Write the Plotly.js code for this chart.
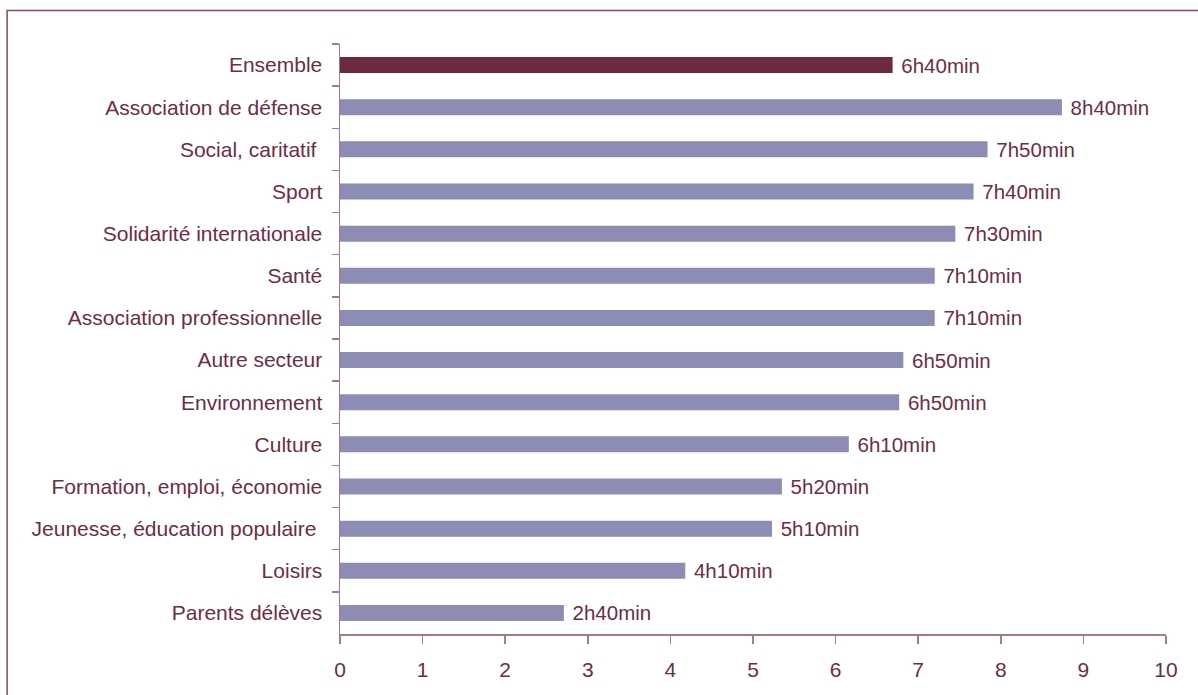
<!DOCTYPE html>
<html>
<head>
<meta charset="utf-8">
<script src="https://cdn.plot.ly/plotly-3.0.1.min.js"></script>
<style>html,body{margin:0;padding:0;background:#fff;}</style>
</head>
<body>
<div id="chart" style="width:1198px;height:695px;"></div>
<script>
var categories = [
  "Ensemble",
  "Association de défense",
  "Social, caritatif\u00a0",
  "Sport",
  "Solidarité internationale",
  "Santé",
  "Association professionnelle",
  "Autre secteur",
  "Environnement",
  "Culture",
  "Formation, emploi, économie",
  "Jeunesse, éducation populaire\u00a0",
  "Loisirs",
  "Parents délèves"
];
var hours = [6.69, 8.74, 7.84, 7.67, 7.45, 7.20, 7.20, 6.82, 6.77, 6.16, 5.35, 5.23, 4.18, 2.71];
var valueLabels = ["6h40min", "8h40min", "7h50min", "7h40min", "7h30min", "7h10min", "7h10min",
  "6h50min", "6h50min", "6h10min", "5h20min", "5h10min", "4h10min", "2h40min"];
var xTicks = [0, 1, 2, 3, 4, 5, 6, 7, 8, 9, 10];

var textColor = "#6e2c47";
var axisColor = "#a8798b";
var barColors = categories.map(function (c, i) { return i === 0 ? "#6b2a40" : "#8c8cb5"; });

var trace = {
  type: "bar",
  orientation: "h",
  y: categories,
  x: hours,
  text: valueLabels.map(function (t) { return "\u00a0" + t; }),
  textposition: "outside",
  constraintext: "none",
  cliponaxis: false,
  textfont: {family: "Liberation Sans, Arial, sans-serif", size: 20.5, color: textColor},
  marker: {color: barColors},
  width: 0.38,
  hoverinfo: "none"
};

var layout = {
  width: 1198,
  height: 695,
  margin: {l: 340, r: 32, t: 44, b: 61},
  paper_bgcolor: "#ffffff",
  plot_bgcolor: "#ffffff",
  showlegend: false,
  font: {family: "Liberation Sans, Arial, sans-serif", size: 21, color: textColor},
  xaxis: {
    range: [0, 10],
    tickvals: xTicks,
    ticktext: xTicks.map(String),
    showgrid: false,
    zeroline: false,
    showline: true,
    linecolor: axisColor,
    linewidth: 1.5,
    ticks: "outside",
    ticklen: 8,
    tickwidth: 1.5,
    tickcolor: axisColor,
    tickfont: {size: 21, color: textColor},
    ticklabelstandoff: 8,
    fixedrange: true
  },
  yaxis: {
    type: "category",
    autorange: "reversed",
    showgrid: false,
    zeroline: false,
    showline: true,
    linecolor: axisColor,
    linewidth: 1.5,
    ticks: "outside",
    tickson: "boundaries",
    ticklen: 7,
    tickwidth: 1.5,
    tickcolor: axisColor,
    tickfont: {size: 21, color: textColor},
    ticklabelstandoff: 12,
    fixedrange: true
  },
  shapes: [{
    type: "rect",
    xref: "paper", yref: "paper",
    x0: -0.403, x1: 1.2, y0: -0.3, y1: 1.0568,
    line: {color: "#8a4a63", width: 1.5},
    fillcolor: "rgba(0,0,0,0)",
    layer: "below"
  }]
};

Plotly.newPlot("chart", [trace], layout, {displayModeBar: false, staticPlot: true});
</script>
</body>
</html>
